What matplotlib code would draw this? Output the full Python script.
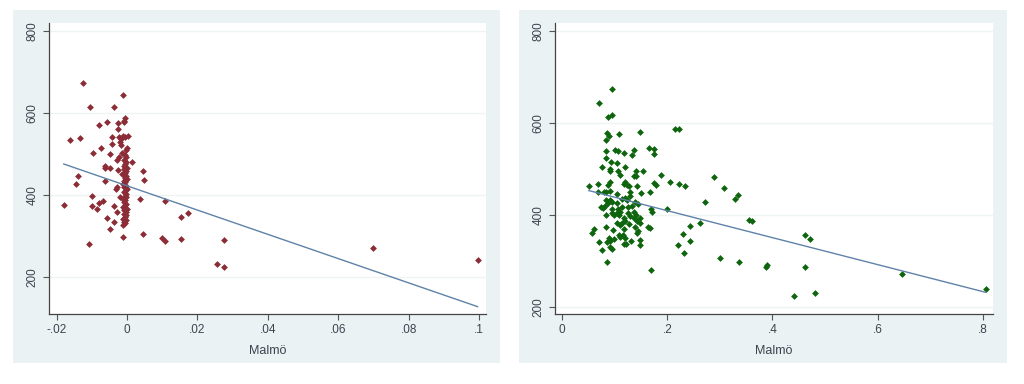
import matplotlib.pyplot as plt
from matplotlib.patches import Rectangle
import numpy as np

plt.rcParams['font.family'] = ['Liberation Sans', 'DejaVu Sans']

# left panel: share (difference) vs score
left_x = [-0.018, -0.0124, -0.0106, -0.0162, -0.0135, -0.0097, -0.014, -0.0144,
          -0.0101, -0.0101, -0.0085, -0.0079, -0.0069, -0.0109, -0.0081, -0.0074,
          -0.0058, -0.0038, -0.0012, -0.0063, -0.0062, -0.0049, -0.0064, -0.0049,
          -0.0044, -0.0042, -0.0027, -0.0026, -0.0024, -0.003, -0.0024, -0.0027,
          -0.0032, -0.0028, -0.0037, -0.0029, -0.0056, -0.0038, -0.0049, -0.0011,
          -0.0007, -0.0008, -0.001, 0.0015, 0.0044, 0.0048, 0.0037, 0.0044,
          0.0099, 0.0109, 0.0109, 0.0152, 0.0173, 0.0152, 0.0274, 0.0256,
          0.0274, 0.070, 0.0996,
          # dense column near zero
          -0.0012, -0.0005, -0.0009, -0.0003, -0.0011, -0.0006, -0.0002, -0.0010,
          -0.0004, -0.0008, -0.0001, -0.0012, -0.0006, -0.0003, -0.0009, -0.0005,
          -0.0011, -0.0002, -0.0007, -0.0004, -0.0010, -0.0006, -0.0001, -0.0008,
          -0.0003, -0.0012, -0.0005, -0.0009, -0.0002, -0.0007, -0.0004, -0.0011,
          -0.0006, -0.0003, -0.0008, -0.0001, -0.0010, -0.0005, -0.0002, -0.0009,
          -0.0004, -0.0007, -0.0015, -0.0003, 0.0000, -0.0018, -0.0020, -0.0016,
          -0.0013, 0.0002, -0.0006, -0.0014, 0.0001, -0.0019]
left_y = [376, 673, 615, 535, 539, 504, 447, 426,
          397, 373, 367, 382, 385, 280, 570, 514,
          578, 616, 644, 472, 465, 465, 434, 500,
          543, 525, 576, 562, 543, 486, 492, 462,
          415, 421, 374, 360, 344, 335, 317, 298,
          588, 582, 579, 482, 459, 436, 391, 305,
          296, 288, 385, 346, 356, 292, 290, 232,
          225, 272, 241,
          327, 331, 335, 339, 343, 347, 351, 355,
          359, 363, 367, 371, 375, 379, 383, 387,
          391, 395, 399, 403, 407, 411, 415, 419,
          423, 427, 431, 435, 439, 443, 447, 451,
          455, 459, 463, 467, 471, 476, 481, 486,
          492, 498, 504, 510, 516, 522, 530, 538,
          544, 545, 541, 452, 440, 395]

# right panel
right_x = [0.0944, 0.071, 0.0868, 0.0944, 0.0849, 0.0887, 0.0843, 0.108, 0.148, 0.2147,
           0.2217, 0.083, 0.0843, 0.101, 0.106, 0.118, 0.137, 0.133, 0.165, 0.175,
           0.174, 0.076, 0.093, 0.105, 0.0906, 0.0913, 0.107, 0.119, 0.110, 0.141,
           0.154, 0.136, 0.141, 0.188, 0.289, 0.205, 0.222, 0.234, 0.307, 0.335,
           0.328, 0.051, 0.069, 0.068, 0.079, 0.087, 0.0906, 0.084, 0.091, 0.104,
           0.124, 0.127, 0.120, 0.117, 0.130, 0.143, 0.150, 0.168, 0.174, 0.179,
           0.084, 0.091, 0.095, 0.104, 0.114, 0.120, 0.124, 0.130, 0.139, 0.144,
           0.0735, 0.078, 0.082, 0.087, 0.095, 0.106, 0.105, 0.111, 0.114, 0.125,
           0.133, 0.125, 0.137, 0.170, 0.171, 0.200, 0.0836, 0.095, 0.099, 0.108,
           0.117, 0.129, 0.136, 0.141, 0.148, 0.149, 0.142, 0.263, 0.271, 0.355,
           0.361, 0.057, 0.061, 0.084, 0.097, 0.104, 0.110, 0.114, 0.119, 0.127,
           0.118, 0.138, 0.142, 0.144, 0.163, 0.168, 0.244, 0.230, 0.070, 0.086,
           0.089, 0.091, 0.099, 0.108, 0.111, 0.116, 0.120, 0.132, 0.149, 0.243,
           0.091, 0.095, 0.076, 0.118, 0.122, 0.149, 0.220, 0.231, 0.086, 0.170,
           0.300, 0.337, 0.387, 0.390, 0.461, 0.471, 0.461, 0.441, 0.481, 0.647,
           0.805]
right_y = [673, 643, 613, 617, 578, 571, 562, 576, 580, 586,
           586, 539, 524, 541, 539, 534, 541, 531, 546, 544,
           533, 504, 515, 513, 500, 495, 495, 504, 486, 496,
           496, 485, 484, 486, 482, 472, 467, 463, 459, 444,
           435, 464, 467, 451, 450, 466, 472, 451, 453, 445,
           466, 464, 472, 467, 451, 462, 448, 451, 470, 466,
           433, 433, 428, 427, 435, 437, 433, 441, 429, 424,
           417, 415, 419, 425, 414, 413, 404, 406, 417, 417,
           420, 404, 406, 413, 407, 413, 401, 404, 399, 399,
           393, 397, 393, 399, 393, 383, 386, 383, 428, 390,
           386, 361, 370, 373, 368, 383, 378, 383, 386, 381,
           369, 375, 361, 366, 373, 372, 376, 359, 342, 342,
           349, 343, 348, 357, 352, 357, 351, 343, 346, 344,
           330, 326, 324, 336, 337, 334, 335, 317, 299, 280,
           306, 297, 288, 292, 357, 347, 288, 224, 231, 272,
           239]

# fitted lines (intercept, slope)
left_fit = (422.7, -2959.0)
right_fit = (468.0, -293.0)

yticks = [200, 400, 600, 800]
left_xticks = [-0.02, 0, 0.02, 0.04, 0.06, 0.08, 0.1]
left_xlabels = ['-.02', '0', '.02', '.04', '.06', '.08', '.1']
right_xticks = [0, 0.2, 0.4, 0.6, 0.8]
right_xlabels = ['0', '.2', '.4', '.6', '.8']

bg = '#eaf2f3'
text_col = '#3b4550'
fig = plt.figure(figsize=(10.24, 3.84), dpi=100, facecolor='white')

# outer graph regions
for x0, x1 in [(13, 500), (519, 1007)]:
    r = Rectangle((x0 / 1024, (384 - 363) / 384), (x1 - x0) / 1024, 353 / 384,
                  transform=fig.transFigure, facecolor=bg, edgecolor='none', zorder=-10)
    fig.add_artist(r)


def panel(rect, xs, ys, fit, color, xlim, ylim, xticks, xlabels):
    ax = fig.add_axes(rect, zorder=1)
    ax.set_facecolor('white')
    for y in yticks:
        ax.axhline(y, color='#eef3f3', lw=1.0, zorder=0)
    ax.scatter(xs, ys, marker='D', s=12, color=color, linewidths=0, zorder=3)
    xx = np.array([min(xs), max(xs)])
    ax.plot(xx, fit[0] + fit[1] * xx, color='#5f82a8', lw=1.0, zorder=4)
    ax.set_xlim(*xlim)
    ax.set_ylim(*ylim)
    ax.set_yticks(yticks)
    ax.set_yticklabels([str(v) for v in yticks], rotation=90, va='center')
    ax.set_xticks(xticks)
    ax.set_xticklabels(xlabels)
    ax.tick_params(colors='#555555', labelcolor=text_col, labelsize=8.5, length=4, width=0.8)
    for s in ['top', 'right']:
        ax.spines[s].set_visible(False)
    for s in ['left', 'bottom']:
        ax.spines[s].set_color('#444444')
        ax.spines[s].set_linewidth(0.9)
    ax.set_xlabel('Malmö', fontsize=9, color=text_col, labelpad=6)
    return ax


panel([49 / 1024, 70 / 384, 437 / 1024, 291 / 384], left_x, left_y, left_fit, '#8b2c36',
      (-0.0222, 0.102), (110, 820), left_xticks, left_xlabels)
panel([554.7 / 1024, 70 / 384, 438 / 1024, 291 / 384], right_x, right_y, right_fit, '#0e650e',
      (-0.0139, 0.8185), (185, 817), right_xticks, right_xlabels)

fig.savefig('out.png', dpi=100, facecolor='white')
